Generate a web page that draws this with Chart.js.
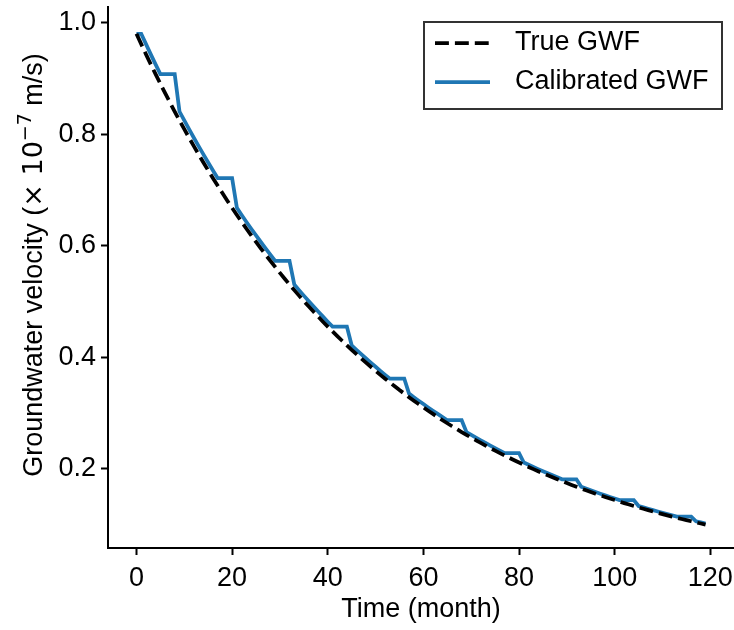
<!DOCTYPE html>
<html>
<head>
<meta charset="utf-8">
<title>Groundwater velocity</title>
<script src="https://cdn.jsdelivr.net/npm/chart.js@4.4.1/dist/chart.umd.min.js"></script>
<style>
  html, body { margin: 0; padding: 0; background: #fff; }
  #wrap { width: 734px; height: 630px; }
</style>
</head>
<body>
<div id="wrap"><canvas id="gwf" width="734" height="630"></canvas></div>
<script>
// month axis
const months = [
  0, 1, 2, 3, 4, 5, 6, 7, 8, 9,
  10, 11, 12, 13, 14, 15, 16, 17, 18, 19,
  20, 21, 22, 23, 24, 25, 26, 27, 28, 29,
  30, 31, 32, 33, 34, 35, 36, 37, 38, 39,
  40, 41, 42, 43, 44, 45, 46, 47, 48, 49,
  50, 51, 52, 53, 54, 55, 56, 57, 58, 59,
  60, 61, 62, 63, 64, 65, 66, 67, 68, 69,
  70, 71, 72, 73, 74, 75, 76, 77, 78, 79,
  80, 81, 82, 83, 84, 85, 86, 87, 88, 89,
  90, 91, 92, 93, 94, 95, 96, 97, 98, 99,
  100, 101, 102, 103, 104, 105, 106, 107, 108, 109,
  110, 111, 112, 113, 114, 115, 116, 117, 118, 119
];

// true groundwater velocity (x 1e-7 m/s)
const trueGWF = [
  0.980, 0.9614, 0.9431, 0.9252, 0.9076, 0.8904, 0.8735, 0.8569, 0.8406, 0.8246,
  0.8090, 0.7936, 0.7785, 0.7637, 0.7492, 0.7350, 0.7210, 0.7073, 0.6939, 0.6807,
  0.6678, 0.6551, 0.6426, 0.6304, 0.6184, 0.6067, 0.5952, 0.5839, 0.5728, 0.5619,
  0.5512, 0.5407, 0.5305, 0.5204, 0.5105, 0.5008, 0.4913, 0.4820, 0.4728, 0.4638,
  0.4550, 0.4464, 0.4379, 0.4296, 0.4214, 0.4134, 0.4055, 0.3978, 0.3903, 0.3829,
  0.3756, 0.3685, 0.3615, 0.3546, 0.3479, 0.3412, 0.3348, 0.3284, 0.3222, 0.3160,
  0.3100, 0.3041, 0.2984, 0.2927, 0.2871, 0.2817, 0.2763, 0.2711, 0.2659, 0.2609,
  0.2559, 0.2511, 0.2463, 0.2416, 0.2370, 0.2325, 0.2281, 0.2238, 0.2195, 0.2153,
  0.2112, 0.2072, 0.2033, 0.1994, 0.1956, 0.1919, 0.1883, 0.1847, 0.1812, 0.1778,
  0.1744, 0.1711, 0.1678, 0.1646, 0.1615, 0.1584, 0.1554, 0.1525, 0.1496, 0.1467,
  0.1439, 0.1412, 0.1385, 0.1359, 0.1333, 0.1308, 0.1283, 0.1259, 0.1235, 0.1211,
  0.1188, 0.1166, 0.1143, 0.1122, 0.1100, 0.1080, 0.1059, 0.1039, 0.1019, 0.1000
];

// calibrated groundwater velocity, holds flat a few months every year
const calibratedGWF = [
  0.980, 0.980, 0.9614, 0.9431, 0.9252, 0.9076, 0.9076, 0.9076, 0.9076, 0.8406,
  0.8246, 0.8090, 0.7936, 0.7785, 0.7637, 0.7492, 0.7350, 0.7210, 0.7210, 0.7210,
  0.7210, 0.6678, 0.6551, 0.6426, 0.6304, 0.6184, 0.6067, 0.5952, 0.5839, 0.5728,
  0.5728, 0.5728, 0.5728, 0.5305, 0.5204, 0.5105, 0.5008, 0.4913, 0.4820, 0.4728,
  0.4638, 0.4550, 0.4550, 0.4550, 0.4550, 0.4214, 0.4134, 0.4055, 0.3978, 0.3903,
  0.3829, 0.3756, 0.3685, 0.3615, 0.3615, 0.3615, 0.3615, 0.3348, 0.3284, 0.3222,
  0.3160, 0.3100, 0.3041, 0.2984, 0.2927, 0.2871, 0.2871, 0.2871, 0.2871, 0.2659,
  0.2609, 0.2559, 0.2511, 0.2463, 0.2416, 0.2370, 0.2325, 0.2281, 0.2281, 0.2281,
  0.2281, 0.2112, 0.2072, 0.2033, 0.1994, 0.1956, 0.1919, 0.1883, 0.1847, 0.1812,
  0.1812, 0.1812, 0.1812, 0.1678, 0.1646, 0.1615, 0.1584, 0.1554, 0.1525, 0.1496,
  0.1467, 0.1439, 0.1439, 0.1439, 0.1439, 0.1333, 0.1308, 0.1283, 0.1259, 0.1235,
  0.1211, 0.1188, 0.1166, 0.1143, 0.1143, 0.1143, 0.1143, 0.1059, 0.1039, 0.1019
];

const xTicks = [0, 20, 40, 60, 80, 100, 120];
const yTicks = [0.2, 0.4, 0.6, 0.8, 1.0];

const FONT = '"Liberation Sans", Arial, sans-serif';
const MATH = '"DejaVu Sans", sans-serif';
const FS = 27;
const LW = 3.75;

function toPoints(ys) {
  return months.map((m, i) => ({ x: m, y: ys[i] }));
}

function noPad(s) {
  s.paddingTop = 0; s.paddingBottom = 0;
  s.paddingLeft = 0; s.paddingRight = 0;
}

// legend inside the axes, upper right, like matplotlib
const boxLegend = {
  id: 'boxLegend',
  afterDraw(chart) {
    const ctx = chart.ctx;
    const x0 = 424, y0 = 22, w = 298, h = 87;
    ctx.save();
    ctx.fillStyle = '#fff';
    ctx.fillRect(x0, y0, w, h);
    ctx.strokeStyle = '#333';
    ctx.lineWidth = 2;
    ctx.strokeRect(x0, y0, w, h);
    const rows = [43, 82];
    chart.data.datasets.forEach((ds, i) => {
      const y = rows[i];
      ctx.beginPath();
      ctx.strokeStyle = ds.borderColor;
      ctx.lineWidth = ds.borderWidth;
      ctx.setLineDash(ds.borderDash || []);
      ctx.moveTo(435, y);
      ctx.lineTo(490, y);
      ctx.stroke();
      ctx.setLineDash([]);
      ctx.fillStyle = '#000';
      ctx.font = FS + 'px ' + FONT;
      ctx.textBaseline = 'middle';
      ctx.textAlign = 'left';
      ctx.fillText(ds.label, 515, y);
    });
    ctx.restore();
  }
};

// y label with a real superscript exponent
const yLabel = {
  id: 'yLabel',
  afterDraw(chart) {
    const ctx = chart.ctx;
    const parts = [
      { t: 'Groundwater velocity (', f: FS + 'px ' + FONT, dy: 0 },
      { t: '\u00d7', f: FS + 'px ' + MATH, dy: 0 },
      { t: ' 10', f: FS + 'px ' + MATH, dy: 0 },
      { t: '\u22127', f: '19px ' + MATH, dy: -11 },
      { t: ' m/s)', f: FS + 'px ' + FONT, dy: 0 }
    ];
    let total = 0;
    parts.forEach(p => { ctx.font = p.f; p.w = ctx.measureText(p.t).width; total += p.w; });
    ctx.save();
    ctx.translate(32, 265);
    ctx.rotate(-Math.PI / 2);
    ctx.fillStyle = '#000';
    ctx.textBaseline = 'alphabetic';
    ctx.textAlign = 'left';
    let x = -total / 2;
    parts.forEach(p => {
      ctx.font = p.f;
      ctx.fillText(p.t, x, 10 + p.dy);
      x += p.w;
    });
    ctx.restore();
  }
};

new Chart(document.getElementById('gwf'), {
  type: 'line',
  data: {
    datasets: [{
      label: 'True GWF',
      data: toPoints(trueGWF),
      borderColor: '#000000',
      borderWidth: LW,
      borderDash: [13.9, 6],
      pointRadius: 0,
      tension: 0,
      fill: false
    }, {
      label: 'Calibrated GWF',
      data: toPoints(calibratedGWF),
      borderColor: '#1f77b4',
      borderWidth: LW,
      pointRadius: 0,
      tension: 0,
      fill: false
    }]
  },
  options: {
    responsive: false,
    animation: false,
    layout: { padding: { top: 7, right: 0, bottom: 0, left: 0 } },
    plugins: {
      legend: { display: false },
      tooltip: { enabled: false }
    },
    scales: {
      x: {
        type: 'linear',
        min: -5.95,
        max: 124.95,
        afterBuildTicks: s => { s.ticks = xTicks.map(v => ({ value: v })); },
        afterFit: s => { s.height = 82; noPad(s); },
        ticks: {
          autoSkip: false,
          maxRotation: 0,
          padding: 7,
          color: '#000',
          font: { family: FONT, size: FS },
          callback: v => String(v)
        },
        grid: {
          drawOnChartArea: false,
          drawTicks: true,
          tickLength: 7,
          tickWidth: 2,
          tickColor: '#000'
        },
        border: { display: true, color: '#000', width: 2 },
        title: {
          display: true,
          text: 'Time (month)',
          color: '#000',
          font: { family: FONT, size: FS },
          padding: { top: 0, bottom: 4 }
        }
      },
      y: {
        type: 'linear',
        min: 0.058,
        max: 1.028,
        afterBuildTicks: s => { s.ticks = yTicks.map(v => ({ value: v })); },
        afterFit: s => { s.width = 108; noPad(s); },
        ticks: {
          padding: 5,
          color: '#000',
          font: { family: FONT, size: FS },
          callback: v => v.toFixed(1)
        },
        grid: {
          drawOnChartArea: false,
          drawTicks: true,
          tickLength: 7,
          tickWidth: 2,
          tickColor: '#000'
        },
        border: { display: true, color: '#000', width: 2 },
        title: { display: false }
      }
    }
  },
  plugins: [boxLegend, yLabel]
});
</script>
</body>
</html>
